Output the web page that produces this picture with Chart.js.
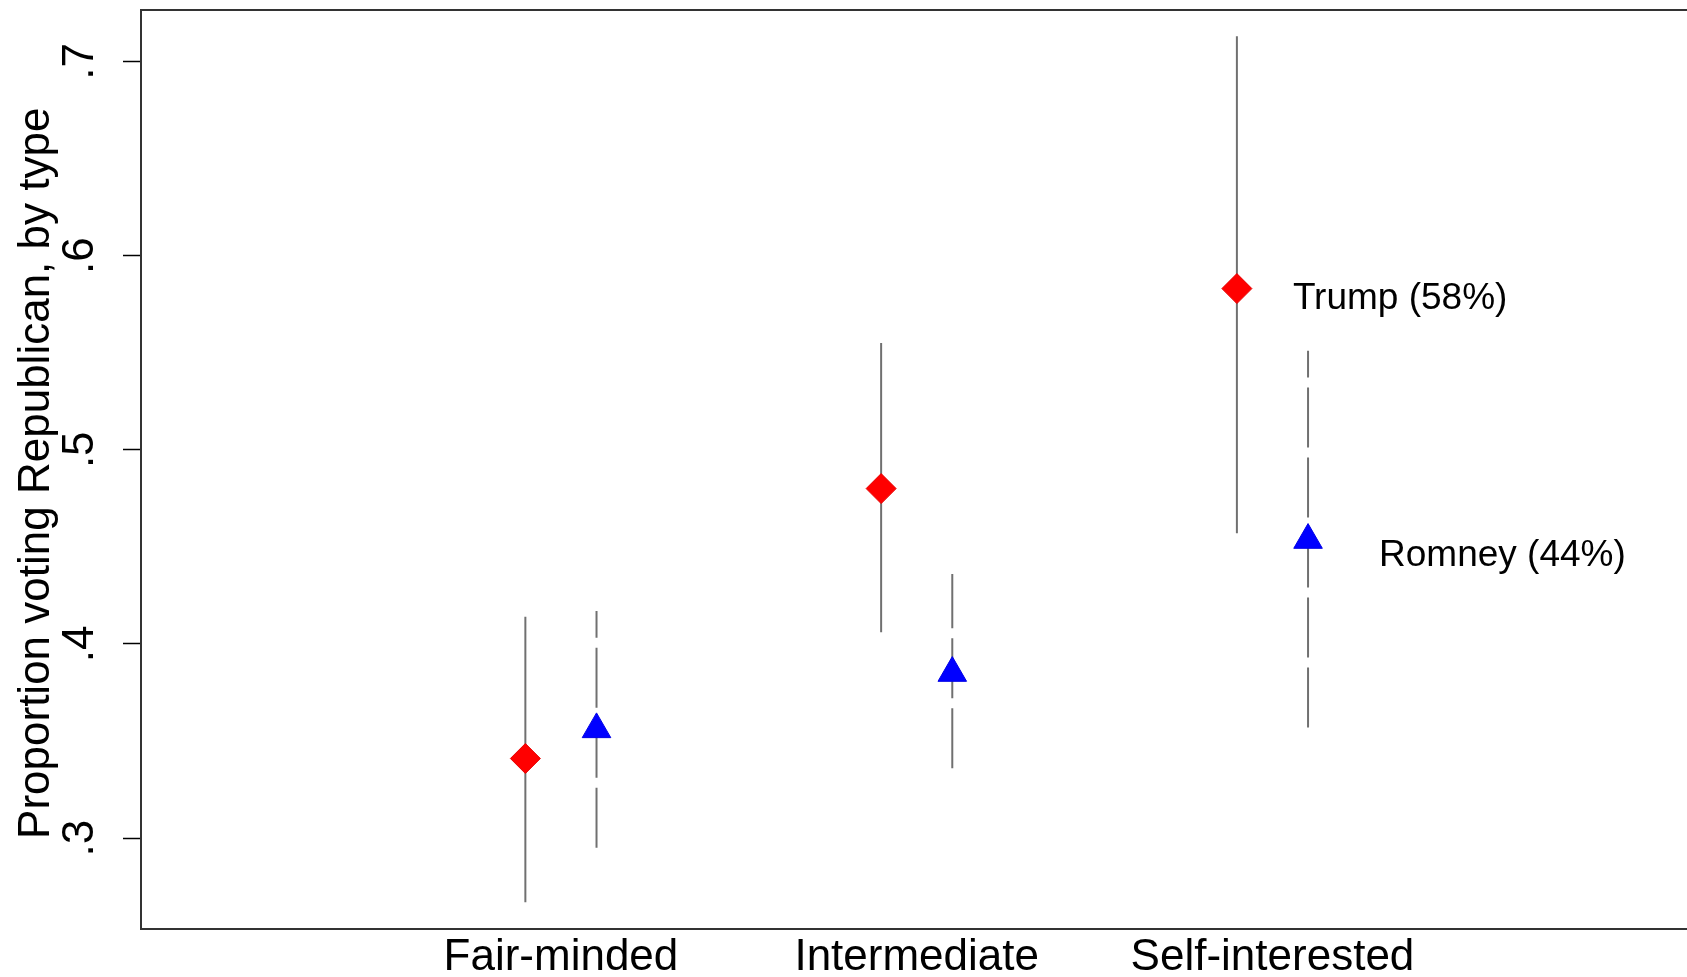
<!DOCTYPE html>
<html lang="en">
  <head>
    <meta charset="UTF-8" />
    <title>Proportion voting Republican, by type</title>
    <style>
      html, body {
        margin: 0;
        padding: 0;
        background: #fff;
        overflow: hidden;
      }
      .container {
        width: 1687px;
        height: 977px;
      }
    </style>
  </head>
  <body>
    <div class="container">
      <canvas id="myChart"></canvas>
    </div>
  </body>
  <script src="https://cdn.jsdelivr.net/npm/chart.js"></script>
  <script>
    const categories = ['Fair-minded', 'Intermediate', 'Self-interested'];
    const seriesLabels = ['Trump (58%)', 'Romney (44%)'];

    const trumpMean = [0.341, 0.480, 0.583];
    const trumpLow = [0.267, 0.406, 0.457];
    const trumpHigh = [0.414, 0.555, 0.713];

    const romneyMean = [0.356, 0.385, 0.4535];
    const romneyLow = [0.295, 0.336, 0.357];
    const romneyHigh = [0.417, 0.436, 0.551];

    const yTicks = [0.3, 0.4, 0.5, 0.6, 0.7];

    const FONT = "'Liberation Sans', Arial, sans-serif";
    const shift = 0.1; // side-by-side offset inside a category

    const points = (means, dx) =>
      means.map((y, i) => ({ x: i + 1 + dx, y: y }));

    // error bars: low -> high, then a null to break the line
    const bars = (lows, highs, dx) =>
      lows.flatMap((lo, i) => [
        { x: i + 1 + dx, y: lo },
        { x: i + 1 + dx, y: highs[i] },
        { x: i + 1 + dx, y: null },
      ]);

    const noPadding = (scale) => {
      scale.paddingTop = 0;
      scale.paddingBottom = 0;
      scale.paddingLeft = 0;
      scale.paddingRight = 0;
    };

    // plot box: open on the right, top edge sits a little above the plot area
    const frame = {
      id: 'frame',
      afterDraw(chart) {
        const { ctx, chartArea: a, width } = chart;
        const top = 10;
        ctx.save();
        ctx.strokeStyle = '#333';
        ctx.lineWidth = 2;
        ctx.beginPath();
        ctx.moveTo(width, top);
        ctx.lineTo(a.left, top);
        ctx.lineTo(a.left, a.bottom);
        ctx.lineTo(width, a.bottom);
        ctx.stroke();
        ctx.restore();
      },
    };

    // series names written next to the self-interested markers
    const seriesNames = {
      id: 'seriesNames',
      afterDatasetsDraw(chart) {
        const { ctx, scales } = chart;
        const last = categories.length - 1;
        const spots = [
          { text: seriesLabels[0], x: last + 1 - shift, y: trumpMean[last], dx: 56, dy: 10 },
          { text: seriesLabels[1], x: last + 1 + shift, y: romneyMean[last], dx: 71, dy: 16 },
        ];
        ctx.save();
        ctx.fillStyle = '#000';
        ctx.font = '37px ' + FONT;
        ctx.textAlign = 'left';
        ctx.textBaseline = 'middle';
        spots.forEach((s) => {
          ctx.fillText(
            s.text,
            scales.x.getPixelForValue(s.x) + s.dx,
            scales.y.getPixelForValue(s.y) + s.dy
          );
        });
        ctx.restore();
      },
    };

    const data = {
      datasets: [
        {
          label: seriesLabels[0],
          data: points(trumpMean, -shift),
          pointStyle: 'rectRot',
          pointRadius: 15,
          pointBackgroundColor: 'rgb(255, 0, 0)',
          pointBorderColor: 'rgb(230, 0, 0)',
          pointBorderWidth: 1,
          showLine: false,
        },
        {
          label: seriesLabels[1],
          data: points(romneyMean, shift),
          pointStyle: 'triangle',
          pointRadius: 16.5,
          pointBackgroundColor: 'rgb(0, 0, 255)',
          pointBorderColor: 'rgb(0, 0, 230)',
          pointBorderWidth: 1,
          showLine: false,
        },
        {
          label: 'Trump CI',
          data: bars(trumpLow, trumpHigh, -shift),
          showLine: true,
          spanGaps: false,
          borderColor: '#707070',
          borderWidth: 2,
          pointRadius: 0,
        },
        {
          label: 'Romney CI',
          data: bars(romneyLow, romneyHigh, shift),
          showLine: true,
          spanGaps: false,
          borderColor: '#707070',
          borderWidth: 2,
          borderDash: [60, 10],
          pointRadius: 0,
        },
      ],
    };

    new Chart(document.getElementById('myChart'), {
      type: 'scatter',
      data: data,
      options: {
        responsive: true,
        maintainAspectRatio: false,
        animation: false,
        layout: { padding: 0 },
        plugins: {
          legend: { display: false },
          tooltip: { enabled: false },
        },
        scales: {
          x: {
            type: 'linear',
            position: 'bottom',
            min: -0.1804,
            max: 4.116,
            grid: { display: false, drawTicks: false },
            border: { display: false },
            afterBuildTicks: (scale) => {
              scale.ticks = categories.map((c, i) => ({ value: i + 1 }));
            },
            afterFit: (scale) => {
              scale.height = 48;
              noPadding(scale);
            },
            ticks: {
              autoSkip: false,
              maxRotation: 0,
              padding: 2,
              color: '#000',
              font: { family: FONT, size: 44 },
              callback: (v) => categories[Math.round(v) - 1] || '',
            },
          },
          y: {
            type: 'linear',
            position: 'left',
            min: 0.2532,
            max: 0.7226,
            grid: {
              drawOnChartArea: false,
              drawTicks: true,
              tickLength: 18,
              tickColor: '#000',
              tickWidth: 1.5,
            },
            border: { display: false },
            afterBuildTicks: (scale) => {
              scale.ticks = yTicks.map((v) => ({ value: v }));
            },
            afterFit: (scale) => {
              scale.width = 141;
              noPadding(scale);
            },
            ticks: {
              minRotation: 90,
              maxRotation: 90,
              crossAlign: 'center',
              padding: 24,
              color: '#000',
              font: { family: FONT, size: 44 },
              callback: (v) => String(v).replace(/^0/, ''),
            },
            title: {
              display: true,
              text: 'Proportion voting Republican, by type',
              color: '#000',
              font: { family: FONT, size: 44 },
              padding: { top: 10, bottom: 0 },
            },
          },
        },
      },
      plugins: [frame, seriesNames],
    });
  </script>
</html>
